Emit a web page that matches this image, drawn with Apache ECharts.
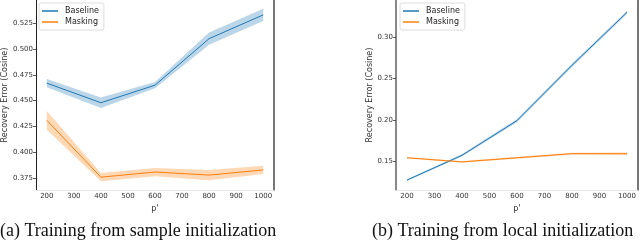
<!DOCTYPE html>
<html><head><meta charset="utf-8">
<script src="https://cdn.jsdelivr.net/npm/echarts@6/dist/echarts.min.js"></script>
<style>html,body{margin:0;padding:0;background:#fff}#c{width:640px;height:242px}</style>
</head><body><div id="c"></div>
<script>
const pValues = [200, 400, 600, 800, 1000];
const xTicks = [200, 300, 400, 500, 600, 700, 800, 900, 1000];
const leftYTicks = [0.375, 0.400, 0.425, 0.450, 0.475, 0.500, 0.525];
const rightYTicks = [0.15, 0.20, 0.25, 0.30];
const leftBaseline = [0.467, 0.448, 0.465, 0.510, 0.533];
const leftBaselineErr = [0.004, 0.005, 0.003, 0.006, 0.006];
const leftMasking = [0.431, 0.376, 0.381, 0.378, 0.383];
const leftMaskingErr = [0.009, 0.004, 0.004, 0.005, 0.004];
const rightBaseline = [0.127, 0.157, 0.199, 0.266, 0.330];
const rightBaselineErr = [0.001, 0.0015, 0.002, 0.002, 0.002];
const rightMasking = [0.154, 0.149, 0.154, 0.159, 0.159];
const rightMaskingErr = [0.001, 0.001, 0.0012, 0.0012, 0.0015];
const seriesNames = ['Baseline', 'Masking'];
const captions = ['(a) Training from sample initialization', '(b) Training from local initialization'];

const BLUE = '#1f77b4', ORANGE = '#ff7f0e';
const chart = echarts.init(document.getElementById('c'), null, {renderer: 'canvas'});

function bandSeries(gi, vals, errs, color, key) {
  const data = pValues.map((x, i) => [x, vals[i] - errs[i], vals[i] + errs[i]]);
  return {
    type: 'custom', name: key, xAxisIndex: gi, yAxisIndex: gi * 2, data: data, silent: true, z: 1,
    encode: {x: 0, y: [1, 2]},
    renderItem: function (params, api) {
      if (params.dataIndex !== 0) return null;
      const upper = data.map(d => api.coord([d[0], d[2]]));
      const lower = data.slice().reverse().map(d => api.coord([d[0], d[1]]));
      return {type: 'polygon', shape: {points: upper.concat(lower)},
        style: {fill: color, opacity: 0.3}};
    }
  };
}
function mainLine(gi, name, vals, color) {
  return {type: 'line', name: name, xAxisIndex: gi, yAxisIndex: gi * 2,
    data: pValues.map((x, i) => [x, vals[i]]), symbol: 'none', color: color,
    lineStyle: {width: 1, color: color}, z: 3};
}
const tickFont = {fontFamily: 'DejaVu Sans', fontSize: 7, color: '#333'};
function xAxis(gi) {
  return {type: 'value', gridIndex: gi, min: 160, max: 1040,
    name: "p'", nameLocation: 'middle', nameGap: 11,
    nameTextStyle: {fontFamily: 'DejaVu Sans', fontSize: 8, color: '#333'},
    axisLine: {show: true, lineStyle: {color: '#e6e6e6', width: 1}},
    axisTick: {show: false}, splitLine: {show: false},
    axisLabel: Object.assign({customValues: xTicks, margin: 3, formatter: v => String(v)}, tickFont)};
}
function yAxis(gi, min, max, ticks, dec, spineColor, spineWidth) {
  return {type: 'value', gridIndex: gi, min: min, max: max, position: 'left',
    name: 'Recovery Error (Cosine)', nameLocation: 'middle', nameRotate: 90,
    nameGap: gi === 0 ? 24 : 18,
    nameTextStyle: {fontFamily: 'DejaVu Sans', fontSize: 8, color: '#333'},
    axisLine: {show: true, lineStyle: {color: spineColor, width: spineWidth}},
    axisTick: {show: true, customValues: ticks, length: 3, lineStyle: {color: '#333', width: 0.8}},
    splitLine: {show: false},
    axisLabel: Object.assign({customValues: ticks, margin: 3, formatter: v => v.toFixed(dec)}, tickFont)};
}
function rightSpine(gi, min, max) {
  return {type: 'value', gridIndex: gi, min: min, max: max, position: 'right',
    axisLine: {show: true, lineStyle: {color: '#777', width: 2}},
    axisTick: {show: false}, axisLabel: {show: false}, splitLine: {show: false}};
}
const legendCommon = {data: seriesNames, orient: 'vertical', icon: 'rect', itemWidth: 16, itemHeight: 1.5,
  itemGap: 3, padding: [4, 5, 4, 3], backgroundColor: '#fff', borderColor: '#ddd', borderWidth: 1, borderRadius: 2,
  textStyle: {fontFamily: 'DejaVu Sans', fontSize: 8, color: '#222', padding: [0, 0, 0, 2]}};

chart.setOption({
  animation: false,
  grid: [
    {left: 36, top: 0, width: 238, height: 190},
    {left: 396, top: 0, width: 242, height: 190}
  ],
  xAxis: [xAxis(0), xAxis(1)],
  yAxis: [
    yAxis(0, 0.3636, 0.5474, leftYTicks, 3, '#222', 1),
    rightSpine(0, 0.3636, 0.5474),
    yAxis(1, 0.115, 0.345, rightYTicks, 2, '#888', 2),
    rightSpine(1, 0.115, 0.345)
  ],
  legend: [
    Object.assign({left: 39, top: 3}, legendCommon),
    Object.assign({left: 400, top: 3}, legendCommon)
  ],
  series: [
    bandSeries(0, leftBaseline, leftBaselineErr, BLUE, 'lb'),
    bandSeries(0, leftMasking, leftMaskingErr, ORANGE, 'lm'),
    mainLine(0, seriesNames[0], leftBaseline, BLUE),
    mainLine(0, seriesNames[1], leftMasking, ORANGE),
    bandSeries(1, rightBaseline, rightBaselineErr, BLUE, 'rb'),
    bandSeries(1, rightMasking, rightMaskingErr, ORANGE, 'rm'),
    mainLine(1, seriesNames[0], rightBaseline, BLUE),
    mainLine(1, seriesNames[1], rightMasking, ORANGE)
  ],
  graphic: [
    {type: 'text', left: 0, top: 222, style: {text: captions[0], font: '18px "Liberation Serif"', fill: '#111'}},
    {type: 'text', left: 372, top: 222, style: {text: captions[1], font: '18px "Liberation Serif"', fill: '#111'}}
  ]
});
</script></body></html>
